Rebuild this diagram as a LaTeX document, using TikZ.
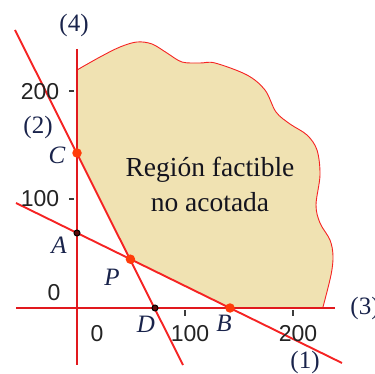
\documentclass[tikz,border=0pt]{standalone}
\usepackage{fontspec}
\setmainfont{Liberation Serif}
\newfontfamily\numfont{Liberation Sans}
\definecolor{axred}{RGB}{225,25,30}
\definecolor{lnred}{RGB}{245,35,35}
\definecolor{tickgray}{RGB}{60,60,60}
\definecolor{numgray}{RGB}{35,35,35}
\definecolor{navy}{RGB}{25,35,75}
\definecolor{dotorange}{RGB}{255,60,10}
\definecolor{dotdark}{RGB}{90,10,10}
\definecolor{regionfill}{RGB}{240,226,178}
\definecolor{textdark}{RGB}{20,20,30}
\begin{document}
\begin{tikzpicture}[x=1pt,y=-1pt,
  axisline/.style={draw=axred,line width=2.8pt},
  conline/.style={draw=lnred,line width=1.9pt},
  tickmark/.style={draw=tickgray,line width=1.3pt},
  ticklbl/.style={font=\numfont\fontsize{23}{26}\selectfont,text=numgray,inner sep=0pt},
  eqlbl/.style={font=\fontsize{25}{28}\selectfont,text=navy,inner sep=0pt},
  ptlbl/.style={font=\itshape\fontsize{25}{28}\selectfont,text=navy,inner sep=0pt},
  bigdot/.style={circle,fill=dotorange,minimum size=9.5pt,inner sep=0pt},
  smalldot/.style={circle,draw=black,fill=dotdark,line width=1pt,minimum size=6pt,inner sep=0pt}
]
\useasboundingbox (0,0) rectangle (375,374);
% key points
\coordinate (C) at (77,153);
\coordinate (A) at (77,233);
\coordinate (P) at (130.4,259.2);
\coordinate (D) at (155,308);
\coordinate (B) at (230,308);
\coordinate (L2a) at (15,30);
\coordinate (L2b) at (183,365);
\coordinate (L1a) at (16,203);
\coordinate (L1b) at (342,363);
\coordinate (Xa) at (16,308);
\coordinate (Xb) at (335,308);
\coordinate (Ya) at (77,49);
\coordinate (Yb) at (77,365);
% region
\fill[regionfill] (C) -- plot[smooth,tension=0.55] coordinates {(77,70) (100,57) (120,47) (137,42) (152,44) (167,53) (182,62) (200,63) (215,63) (247,75) (265,90) (276,112) (290,124) (307,135) (317,150) (320,175) (316,205) (320,223) (330,240) (333,256) (331,275) (323,307)} -- (B) -- (P) -- cycle;
\draw[lnred,line width=0.9pt] plot[smooth,tension=0.55] coordinates {(77,70) (100,57) (120,47) (137,42) (152,44) (167,53) (182,62) (200,63) (215,63) (247,75) (265,90) (276,112) (290,124) (307,135) (317,150) (320,175) (316,205) (320,223) (330,240) (333,256) (331,275) (323,307)};
% ticks
\draw[tickmark] (69,91) -- (74,91);
\draw[tickmark] (69,199) -- (74,199);
\draw[tickmark] (185,310) -- (185,316);
\draw[tickmark] (293,310) -- (293,316);
% lines
\draw[conline] (L2a) -- (L2b);
\draw[conline] (L1a) -- (L1b);
\draw[axisline] (Xa) -- (Xb);
\draw[axisline] (Ya) -- (Yb);
% points
\node[bigdot] (Cd) at (C) {};
\node[bigdot] (Pd) at (P) {};
\node[bigdot] (Bd) at (B) {};
\node[smalldot] (Ad) at (A) {};
\node[smalldot] (Dd) at (D) {};
% tick labels
\node[ticklbl] (t200) at (40,92) {200};
\node[ticklbl] (t100) at (40,199) {100};
\node[ticklbl] (ty0) at (54,293) {0};
\node[ticklbl] (tx0) at (97,334) {0};
\node[ticklbl] (tx100) at (190,334) {100};
\node[ticklbl] (tx200) at (298,334) {200};
% equation labels
\node[eqlbl] (e4) at (74,25) {(4)};
\node[eqlbl] (e2) at (38,127) {(2)};
\node[eqlbl] (e3) at (365,308) {(3)};
\node[eqlbl] (e1) at (305,362) {(1)};
% point labels
\node[ptlbl] (lC) at (57,155) {C};
\node[ptlbl] (lA) at (59,245) {A};
\node[ptlbl] (lP) at (112,277) {P};
\node[ptlbl] (lD) at (146,324) {D};
\node[ptlbl] (lB) at (224,323) {B};
% region text
\node[font=\fontsize{27.5}{35}\selectfont,align=center,text=textdark,inner sep=0pt] (reg) at (210,184) {Región factible\\no acotada};
\end{tikzpicture}
\end{document}
